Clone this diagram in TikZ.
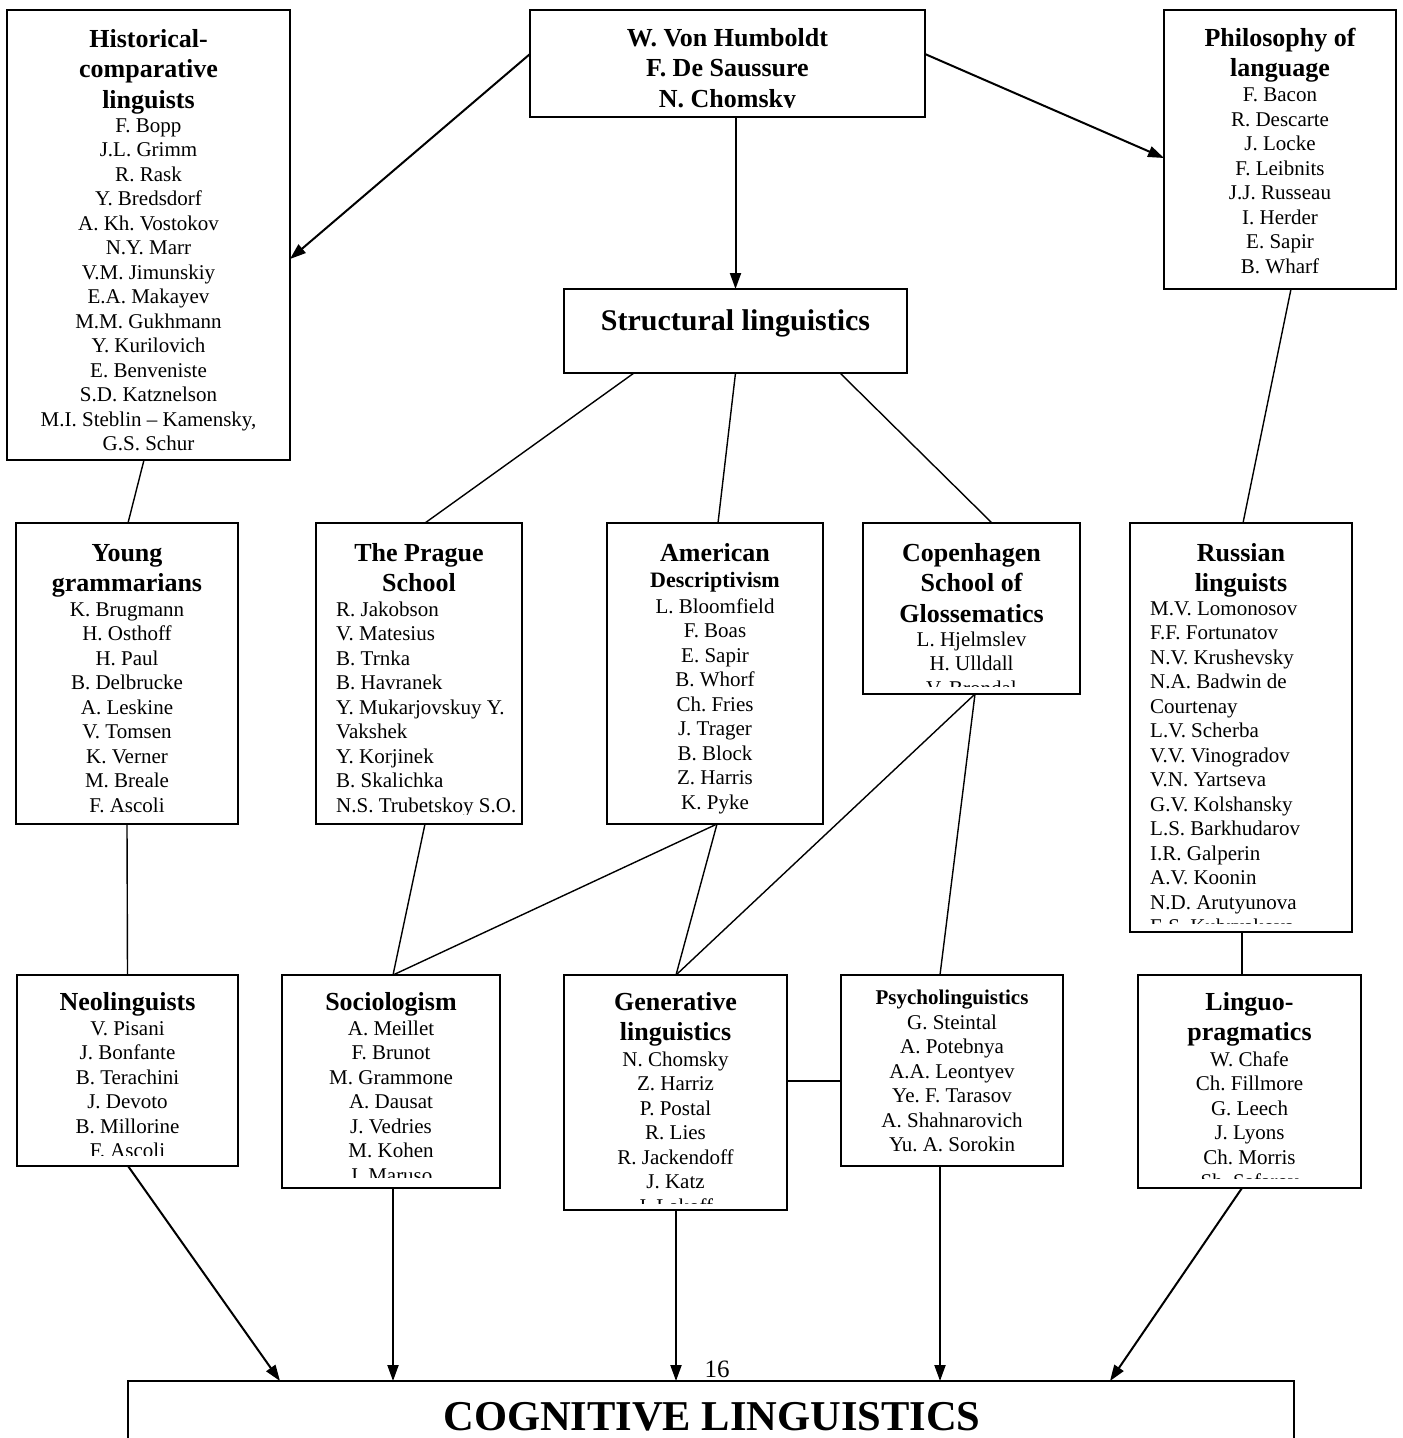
\documentclass[tikz,border=0pt]{standalone}
\usepackage{fontspec}
\setmainfont{Liberation Serif}
\usetikzlibrary{arrows.meta}
\frenchspacing

\tikzset{
  box/.style={draw, line width=1.5pt, inner sep=0pt, outer sep=0pt, anchor=north west},
  hd/.style={font=\bfseries\fontsize{26}{30}\selectfont, anchor=base, inner sep=0pt},
  hdsmall/.style={font=\bfseries\fontsize{22}{26}\selectfont, anchor=base, inner sep=0pt},
  nm/.style={font=\fontsize{21}{24}\selectfont, anchor=base, inner sep=0pt},
  nml/.style={nm, anchor=base west},
  link/.style={line width=1.4pt},
  arr/.style={line width=2pt, -{Triangle[length=16pt, width=11pt]}},
}

\begin{document}
\begin{tikzpicture}[x=1pt, y=-1pt]
\useasboundingbox[fill=white] (0,0) rectangle (1403,1438);

% ---------- boxes ----------
\node[box, minimum width=283, minimum height=450] (hist)   at (7,10) {};
\node[box, minimum width=395, minimum height=107] (hum)    at (530,10) {};
\node[box, minimum width=232, minimum height=279] (phil)   at (1164,10) {};
\node[box, minimum width=343, minimum height=84]  (str)    at (564,289) {};
\node[box, minimum width=222, minimum height=301] (young)  at (16,523) {};
\node[box, minimum width=206, minimum height=301] (prague) at (316,523) {};
\node[box, minimum width=216, minimum height=301] (amer)   at (607,523) {};
\node[box, minimum width=217, minimum height=171] (copen)  at (863,523) {};
\node[box, minimum width=222, minimum height=409] (russ)   at (1130,523) {};
\node[box, minimum width=221, minimum height=191] (neo)    at (17,975) {};
\node[box, minimum width=218, minimum height=213] (socio)  at (282,975) {};
\node[box, minimum width=223, minimum height=235] (gen)    at (564,975) {};
\node[box, minimum width=222, minimum height=191] (psy)    at (841,975) {};
\node[box, minimum width=223, minimum height=213] (ling)   at (1138,975) {};
\node[box, minimum width=1166, minimum height=90] (cog)    at (128,1381) {};

% ---------- box texts ----------
% Historical-comparative linguists
\begin{scope}
  \clip (7,10) rectangle (290,450);
  \node[hd] (hist-h1) at (148.5,47)   {Historical-};
  \node[hd] (hist-h2) at (148.5,77.5) {comparative};
  \node[hd] (hist-h3) at (148.5,108)  {linguists};
  \foreach \t [count=\i from 0] in {F. Bopp, J.L. Grimm, R. Rask, Y. Bredsdorf,
      A. Kh. Vostokov, N.Y. Marr, V.M. Jimunskiy, E.A. Makayev, M.M. Gukhmann,
      Y. Kurilovich, E. Benveniste, S.D. Katznelson, {M.I. Steblin – Kamensky,},
      G.S. Schur}
    \node[nm] (hist-n\i) at (148.5,{132+24.5*\i}) {\t};
\end{scope}

% Humboldt / Saussure / Chomsky
\begin{scope}
  \clip (530,10) rectangle (925,107.8);
  \node[hd] (hum-1) at (727.5,46)   {W. Von Humboldt};
  \node[hd] (hum-2) at (727.5,76.5) {F. De Saussure};
  \node[hd] (hum-3) at (727.5,107)  {N. Chomsky};
\end{scope}

% Philosophy of language
\node[hd] (phil-h1) at (1280,46)   {Philosophy of};
\node[hd] (phil-h2) at (1280,76.5) {language};
\foreach \t [count=\i from 0] in {F. Bacon, R. Descarte, J. Locke, F. Leibnits,
    J.J. Russeau, I. Herder, E. Sapir, B. Wharf}
  \node[nm] (phil-n\i) at (1280,{101.5+24.5*\i}) {\t};

% Structural linguistics
\node[hd, font=\bfseries\fontsize{30}{34}\selectfont] (str-t) at (735.5,330) {Structural linguistics};

% Young grammarians
\node[hd] (young-h1) at (127,561)   {Young};
\node[hd] (young-h2) at (127,591.5) {grammarians};
\foreach \t [count=\i from 0] in {K. Brugmann, H. Osthoff, H. Paul, B. Delbrucke,
    A. Leskine, V. Tomsen, K. Verner, M. Breale, F. Ascoli}
  \node[nm] (young-n\i) at (127,{616+24.5*\i}) {\t};

% The Prague School
\begin{scope}
  \clip (316,523) rectangle (522,814);
  \node[hd] (prague-h1) at (419,561)   {The Prague};
  \node[hd] (prague-h2) at (419,591.5) {School};
  \foreach \t [count=\i from 0] in {R. Jakobson, V. Matesius, B. Trnka, B. Havranek,
      Y. Mukarjovskuy Y., Vakshek, Y. Korjinek, B. Skalichka, N.S. Trubetskoy S.O.}
    \node[nml] (prague-n\i) at (336,{616+24.5*\i}) {\t};
\end{scope}

% American Descriptivism
\node[hd] (amer-h1) at (715,561) {American};
\node[hdsmall] (amer-h2) at (715,587.5) {Descriptivism};
\foreach \t [count=\i from 0] in {L. Bloomfield, F. Boas, E. Sapir, B. Whorf,
    Ch. Fries, J. Trager, B. Block, Z. Harris, K. Pyke}
  \node[nm] (amer-n\i) at (715,{613+24.5*\i}) {\t};

% Copenhagen School of Glossematics
\begin{scope}
  \clip (863,523) rectangle (1080,686);
  \node[hd] (copen-h1) at (971.5,561)   {Copenhagen};
  \node[hd] (copen-h2) at (971.5,591.5) {School of};
  \node[hd] (copen-h3) at (971.5,622)   {Glossematics};
  \foreach \t [count=\i from 0] in {L. Hjelmslev, H. Ulldall, V. Brondal}
    \node[nm] (copen-n\i) at (971.5,{646+24.5*\i}) {\t};
\end{scope}

% Russian linguists
\begin{scope}
  \clip (1130,523) rectangle (1352,923);
  \node[hd] (russ-h1) at (1241,561)   {Russian};
  \node[hd] (russ-h2) at (1241,591.5) {linguists};
  \foreach \t [count=\i from 0] in {M.V. Lomonosov, F.F. Fortunatov, N.V. Krushevsky,
      N.A. Badwin de, Courtenay, L.V. Scherba, V.V. Vinogradov, V.N. Yartseva,
      G.V. Kolshansky, L.S. Barkhudarov, I.R. Galperin, A.V. Koonin,
      N.D. Arutyunova, E.S. Kubryakova}
    \node[nml] (russ-n\i) at (1150,{615+24.5*\i}) {\t};
\end{scope}

% Neolinguists
\begin{scope}
  \clip (17,975) rectangle (238,1155);
  \node[hd] (neo-h) at (127.5,1010) {Neolinguists};
  \foreach \t [count=\i from 0] in {V. Pisani, J. Bonfante, B. Terachini, J. Devoto,
      B. Millorine, F. Ascoli}
    \node[nm] (neo-n\i) at (127.5,{1035+24.5*\i}) {\t};
\end{scope}

% Sociologism
\begin{scope}
  \clip (282,975) rectangle (500,1177);
  \node[hd] (socio-h) at (391,1010) {Sociologism};
  \foreach \t [count=\i from 0] in {A. Meillet, F. Brunot, M. Grammone, A. Dausat,
      J. Vedries, M. Kohen, J. Maruso}
    \node[nm] (socio-n\i) at (391,{1035+24.5*\i}) {\t};
\end{scope}

% Generative linguistics
\begin{scope}
  \clip (564,975) rectangle (787,1203);
  \node[hd] (gen-h1) at (675.5,1010)   {Generative};
  \node[hd] (gen-h2) at (675.5,1040.5) {linguistics};
  \foreach \t [count=\i from 0] in {N. Chomsky, Z. Harriz, P. Postal, R. Lies,
      R. Jackendoff, J. Katz, J. Lakoff}
    \node[nm] (gen-n\i) at (675.5,{1066+24.5*\i}) {\t};
\end{scope}

% Psycholinguistics
\node[hd, font=\bfseries\fontsize{21}{24}\selectfont] (psy-h) at (952,1004) {Psycholinguistics};
\foreach \t [count=\i from 0] in {G. Steintal, A. Potebnya, A.A. Leontyev,
    Ye. F. Tarasov, A. Shahnarovich, Yu. A. Sorokin}
  \node[nm] (psy-n\i) at (952,{1029+24.5*\i}) {\t};

% Linguo-pragmatics
\begin{scope}
  \clip (1138,975) rectangle (1361,1178);
  \node[hd] (ling-h1) at (1249.5,1010)   {Linguo-};
  \node[hd] (ling-h2) at (1249.5,1040.5) {pragmatics};
  \foreach \t [count=\i from 0] in {W. Chafe, Ch. Fillmore, G. Leech, J. Lyons,
      Ch. Morris, Sh. Safarov}
    \node[nm] (ling-n\i) at (1249.5,{1066+24.5*\i}) {\t};
\end{scope}

% Cognitive linguistics and page number
\node[hd, font=\bfseries\fontsize{42.5}{48}\selectfont] (cog-t) at (712,1430) {COGNITIVE LINGUISTICS};
\node[nm, font=\fontsize{25}{29}\selectfont] (pgno) at (717,1377) {16};

% ---------- connectors ----------
\draw[arr] ([yshift=-44pt]hum.north west) -- ([yshift=-249pt]hist.north east);
\draw[arr] ([yshift=-44pt]hum.north east) -- ([yshift=-148pt]phil.north west);
\draw[arr] (str.north |- hum.south) -- (str.north);

\draw[link] ([xshift=70pt]str.south west) -- ([xshift=109pt]prague.north west);
\draw[link] (str.south) -- ([xshift=3pt]amer.north);
\draw[link] ([xshift=-67pt]str.south east) -- ([xshift=20.5pt]copen.north);
\draw[link] ([xshift=-4.5pt]hist.south) -- ([xshift=1pt]young.north);
\draw[link] ([xshift=11pt]phil.south) -- ([xshift=2pt]russ.north);

\draw[link] (young.south) -- (neo.north);
\draw[link] ([xshift=6pt]prague.south) -- ([xshift=2pt]socio.north);
\draw[link] ([xshift=2pt]amer.south) -- ([xshift=2pt]socio.north);
\draw[link] ([xshift=2pt]amer.south) -- ([xshift=0.5pt]gen.north);
\draw[link] ([xshift=3.5pt]copen.south) -- ([xshift=0.5pt]gen.north);
\draw[link] ([xshift=3.5pt]copen.south) -- ([xshift=-12pt]psy.north);
\draw[link] ([xshift=1pt]russ.south) -- ([xshift=-7.5pt]ling.north);
\draw[link] ([yshift=-106pt]gen.north east) -- ([yshift=-106pt]psy.north west);

\draw[arr] ([xshift=0.5pt]neo.south) -- ([xshift=152pt]cog.north west);
\draw[arr] ([xshift=2pt]socio.south) -- ([xshift=265pt]cog.north west);
\draw[arr] ([xshift=0.5pt]gen.south) -- ([xshift=548pt]cog.north west);
\draw[arr] ([xshift=-12pt]psy.south) -- ([xshift=812pt]cog.north west);
\draw[arr] ([xshift=-7.5pt]ling.south) -- ([xshift=982pt]cog.north west);
\end{tikzpicture}
\end{document}
